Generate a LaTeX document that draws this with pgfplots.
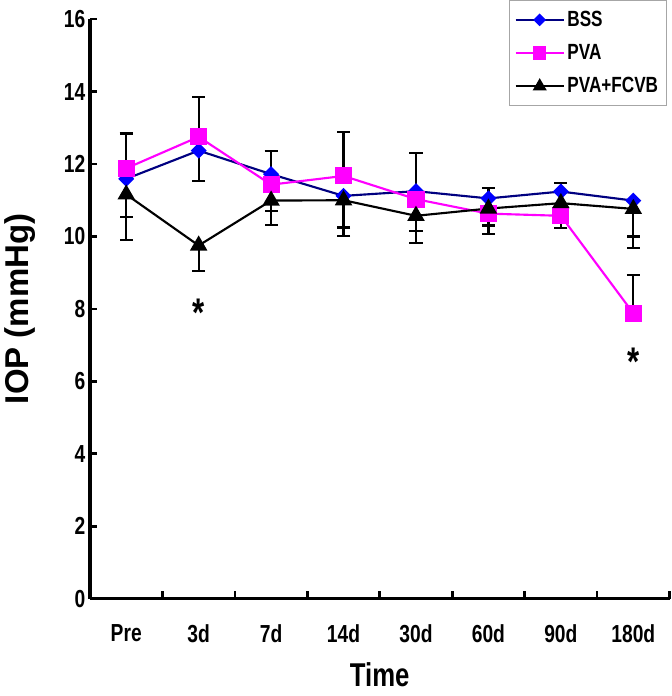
\documentclass[border=0pt]{standalone}
\usepackage{fontspec}
\setmainfont{Liberation Sans}[FakeStretch=0.78]
\newfontfamily\widesans{Liberation Sans}
\usepackage{pgfplots}
\pgfplotsset{compat=1.18}
\definecolor{bssline}{RGB}{0,0,128}
\definecolor{bssmark}{RGB}{0,0,255}
\definecolor{pva}{RGB}{255,0,255}

\begin{document}
\begin{tikzpicture}
\begin{axis}[
  scale only axis, width=435pt, height=435pt,
  xmin=-0.5, xmax=7.5, ymin=0, ymax=16,
  axis x line*=bottom, axis y line*=left,
  axis line style={line width=2.4pt, -},
  xtick={0,...,7}, xticklabels={Pre,3d,7d,14d,30d,60d,90d,180d},
  major x tick style={draw=none},
  minor xtick={-0.5,0.5,...,7.5},
  ytick={0,2,...,16},
  tick style={line width=2pt, black},
  major tick length=5.5pt, minor tick length=5.5pt,
  tick label style={font=\fontsize{18.5}{20}\selectfont\bfseries},
  /pgf/number format/assume math mode=true,
  xticklabel style={yshift=-16pt},
  xlabel={Time}, ylabel={IOP (mmHg)},
  xlabel style={font=\fontsize{24.75}{28}\selectfont\bfseries,
    at={(axis description cs:0.5,-0.131)}, anchor=center, inner ysep=7pt},
  ylabel style={font=\widesans\fontsize{24.75}{28}\selectfont\bfseries,
    at={(axis description cs:-0.121,0.5)}, anchor=center},
  legend style={at={(axis description cs:0.995,1.033)}, anchor=north east,
    draw=gray!70, line width=0.8pt, font=\fontsize{16.5}{18}\selectfont\bfseries,
    row sep=8pt, inner xsep=4pt, inner ysep=6pt, cells={anchor=west}},
  legend image code/.code={\draw[mark repeat=2,mark phase=2,#1,
    every mark/.append style={scale=0.75}]
    plot coordinates {(0pt,0pt) (18pt,0pt) (36pt,0pt)};},
  every axis plot/.append style={line width=1.6pt},
  error bars/error bar style={black, solid, line width=1.7pt},
  error bars/error mark options={black, rotate=90, mark size=4.9pt, line width=1.7pt},
]
% BSS
\addplot[color=bssline, mark=square*, mark size=3.45pt,
  mark options={fill=bssmark, draw=bssmark, rotate=45, solid},
  error bars/.cd, y dir=minus, y explicit]
  coordinates {
  (0,11.59) +- (0,1.05)
  (1,12.37) +- (0,0.83)
  (2,11.72) +- (0,1.01)
  (3,11.12) +- (0,0.87)
  (4,11.25) +- (0,1.09)
  (5,11.05) +- (0,0.75)
  (6,11.24) +- (0,1.01)
  (7,10.99) +- (0,0.99)
};
\addlegendentry{BSS}
% PVA
\addplot[color=pva, mark=square*, mark size=5.6pt,
  mark options={fill=pva, draw=pva, solid},
  error bars/.cd, y dir=plus, y explicit]
  coordinates {
  (0,11.88) +- (0,0.96)
  (1,12.75) +- (0,1.10)
  (2,11.43) +- (0,0.92)
  (3,11.67) +- (0,1.22)
  (4,11.03) +- (0,1.27)
  (5,10.63) +- (0,0.70)
  (6,10.57) +- (0,0.91)
  (7,7.88) +- (0,1.06)
};
\addlegendentry{PVA}
% PVA+FCVB
\addplot[color=black, mark=triangle*, mark size=6pt,
  mark options={fill=black, draw=black, solid},
  error bars/.cd, y dir=minus, y explicit]
  coordinates {
  (0,11.16) +- (0,1.25)
  (1,9.75) +- (0,0.71)
  (2,10.99) +- (0,0.67)
  (3,11.00) +- (0,0.98)
  (4,10.57) +- (0,0.75)
  (5,10.77) +- (0,0.70)
  (6,10.92) +- (0,0.69)
  (7,10.76) +- (0,1.08)
};
\addlegendentry{PVA+FCVB}
\node[anchor=base, yshift=-16pt, font=\fontsize{30}{30}\selectfont\bfseries]
  at (axis cs:1,8.1) {*};
\node[anchor=base, yshift=-16pt, font=\fontsize{30}{30}\selectfont\bfseries]
  at (axis cs:7,6.75) {*};
\end{axis}
\end{tikzpicture}
\end{document}
